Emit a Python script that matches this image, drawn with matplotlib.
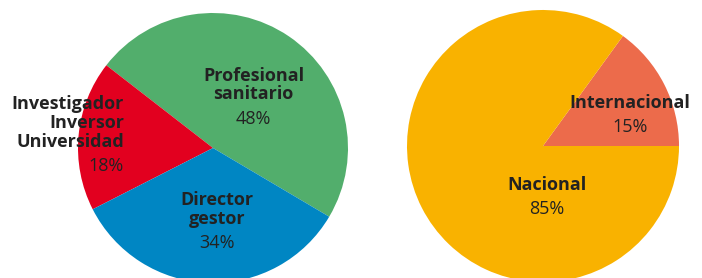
import matplotlib
matplotlib.use("Agg")
import matplotlib.pyplot as plt

# left pie: profile of respondents
perfil_labels = ["Profesional\nsanitario", "Investigador\nInversor\nUniversidad", "Director\ngestor"]
perfil_values = [48, 18, 34]
perfil_colors = ["#52AE6C", "#E2001F", "#0086C3"]

# right pie: scope
ambito_labels = ["Internacional", "Nacional"]
ambito_values = [15, 85]
ambito_colors = ["#EC6B4B", "#F9B200"]

W, H = 702, 278
TXT = "#222222"
plt.rcParams["font.family"] = ["Open Sans", "DejaVu Sans"]

fig = plt.figure(figsize=(W / 100, H / 100), dpi=100)


def pie_axes(cx, cy, r):
    # cx, cy, r in pixels from top-left
    return fig.add_axes([(cx - r) / W, (H - cy - r) / H, 2 * r / W, 2 * r / H])


def label(ax, x, y, name, pct, ha="center", gap=0.18):
    ax.text(x, y, name, ha=ha, va="bottom", fontsize=13, fontweight="bold",
            color=TXT, linespacing=1.05)
    ax.text(x, y - gap, f"{pct}%", ha=ha, va="bottom", fontsize=13,
            fontweight="normal", color=TXT)


ax1 = pie_axes(213, 148, 135)
ax1.pie(perfil_values, colors=perfil_colors, startangle=-30.6, counterclock=True,
        radius=1.0, wedgeprops=dict(linewidth=0))
ax1.set_xlim(-1, 1); ax1.set_ylim(-1, 1); ax1.set_aspect("equal"); ax1.axis("off")
label(ax1, 0.30, 0.33, perfil_labels[0], perfil_values[0])
label(ax1, -0.66, -0.02, perfil_labels[1], perfil_values[1], ha="right")
label(ax1, 0.03, -0.59, perfil_labels[2], perfil_values[2])

ax2 = pie_axes(543, 146, 136)
ax2.pie(ambito_values, colors=ambito_colors, startangle=0, counterclock=True,
        radius=1.0, wedgeprops=dict(linewidth=0))
ax2.set_xlim(-1, 1); ax2.set_ylim(-1, 1); ax2.set_aspect("equal"); ax2.axis("off")
label(ax2, 0.64, 0.25, ambito_labels[0], ambito_values[0])
label(ax2, 0.03, -0.35, ambito_labels[1], ambito_values[1])

fig.savefig("out.png", dpi=100)
